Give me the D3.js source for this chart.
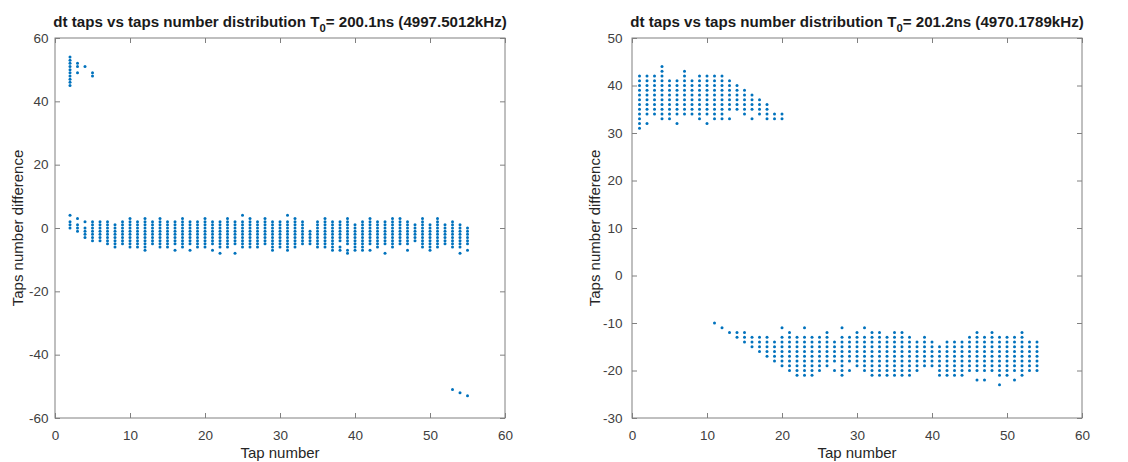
<!DOCTYPE html>
<html><head><meta charset="utf-8">
<script src="https://cdn.jsdelivr.net/npm/d3@7"></script>
<style>body{margin:0;background:#fff}svg{display:block}</style>
</head><body>
<svg id="c" width="1128" height="462"></svg>
<script>
// ---------------- data ----------------
// Each run [x, lo, hi] = a column of integer-valued dots from lo to hi at tap x.
const xTicks = [0, 10, 20, 30, 40, 50, 60];
const leftYTicks = [-60, -40, -20, 0, 20, 40, 60];
const rightYTicks = [-30, -20, -10, 0, 10, 20, 30, 40, 50];
const leftTitle = ["dt taps vs taps number distribution T", "0", "= 200.1ns (4997.5012kHz)"];
const rightTitle = ["dt taps vs taps number distribution T", "0", "= 201.2ns (4970.1789kHz)"];
const xLabel = "Tap number";
const yLabel = "Taps number difference";

const leftRuns = [
  [2,45,54],[3,51,52],[5,48,49],
  [2,0,2],[3,-1,1],[4,-3,0],[5,-4,2],[6,-4,2],[7,-5,2],[8,-6,1],[9,-5,2],[10,-6,3],
  [11,-6,2],[12,-7,3],[13,-5,2],[14,-6,3],[15,-6,2],[16,-5,2],[17,-6,3],[18,-5,2],
  [19,-6,2],[20,-6,3],[21,-5,2],[22,-6,2],[23,-6,3],[24,-5,2],[25,-6,2],[26,-6,3],
  [27,-6,2],[28,-5,3],[29,-7,2],[30,-6,2],[31,-7,2],[32,-6,3],[33,-5,2],[34,-5,-1],
  [35,-6,2],[36,-6,3],[37,-6,2],[38,-4,2],[39,-5,3],[40,-6,1],[41,-6,2],[42,-5,3],
  [43,-6,2],[44,-5,2],[45,-6,3],[46,-5,3],[47,-5,2],[48,-4,1],[49,-6,3],[50,-7,1],
  [51,-6,3],[52,-5,1],[53,-6,2],[54,-6,1],[55,-5,0]
];
const leftSingles = [
  [3,49],[4,51],[53,-51],[54,-52],[55,-53],
  [2,4],[3,3],[4,2],[16,-7],[18,-7],[21,-7],[22,-8],[24,-8],[25,4],[31,4],
  [37,-7],[38,-6],[38,-7],[39,-7],[39,-8],[40,-7],[41,-7],[42,-7],[44,-8],[47,-7],
  [54,-8],[55,-7]
];

const rightRuns = [
  [1,31,42],[2,34,42],[3,34,42],[4,33,44],[5,33,41],[6,34,41],[7,34,43],[8,34,41],
  [9,33,42],[10,34,42],[11,33,42],[12,33,42],[13,35,41],[14,35,40],[15,34,39],
  [16,35,38],[17,34,37],[18,33,36],[19,33,34],[20,33,34],
  [11,-10,-10],[12,-11,-11],[13,-12,-12],[14,-13,-12],[15,-14,-12],[16,-15,-13],
  [17,-16,-13],[18,-17,-13],[19,-18,-14],[20,-19,-13],[21,-20,-12],[22,-21,-13],
  [23,-21,-13],[24,-21,-13],[25,-20,-13],[26,-19,-12],[27,-18,-14],[28,-21,-13],
  [29,-18,-13],[30,-19,-12],[31,-20,-13],[32,-21,-12],[33,-21,-12],[34,-21,-13],
  [35,-21,-12],[36,-21,-12],[37,-21,-13],[38,-20,-14],[39,-19,-13],[40,-19,-14],
  [41,-21,-15],[42,-21,-14],[43,-21,-14],[44,-21,-14],[45,-20,-13],[46,-20,-12],
  [47,-20,-13],[48,-20,-12],[49,-21,-13],[50,-21,-13],[51,-20,-13],[52,-21,-12],
  [53,-20,-14],[54,-20,-14]
];
const rightSingles = [
  [2,32],[6,32],[10,32],[13,33],[16,33],
  [20,-11],[23,-11],[27,-20],[28,-11],[29,-20],[31,-11],[46,-22],[47,-22],[49,-23],[51,-22]
];

// ---------------- drawing ----------------
const svg = d3.select("#c");
const dotColor = "#0072BD";
const axisColor = "#808080";
const textColor = "#404040";
const font = "'Liberation Sans', Arial, Helvetica, sans-serif";

function expand(runs, singles) {
  const pts = [];
  runs.forEach(([x, lo, hi]) => { for (let y = lo; y <= hi; y++) pts.push([x, y]); });
  singles.forEach(p => pts.push(p));
  return pts;
}

function panel(cfg) {
  const {x0, x1, y0, y1, yDomain, yTicks, title, runs, singles, yLabelX, yPad} = cfg;
  const g = svg.append("g");
  const x = d3.scaleLinear().domain([0, 60]).range([x0, x1]);
  const y = d3.scaleLinear().domain(yDomain).range([y1, y0]);
  const tl = 5;

  g.append("rect").attr("x", x0).attr("y", y0).attr("width", x1 - x0).attr("height", y1 - y0)
    .attr("fill", "none").attr("stroke", axisColor).attr("stroke-width", 1);

  const ax = (sel, axis) => {
    sel.call(axis);
    sel.select(".domain").remove();
    sel.selectAll(".tick line").attr("stroke", axisColor);
    sel.selectAll(".tick text").attr("fill", textColor).style("font-family", font).style("font-size", "13.5px");
  };
  g.append("g").attr("transform", `translate(0,${y1})`)
    .call(s => ax(s, d3.axisBottom(x).tickValues(xTicks).tickSize(-tl).tickPadding(12).tickFormat(d3.format("d"))));
  g.append("g").attr("transform", `translate(0,${y0})`)
    .call(s => ax(s, d3.axisTop(x).tickValues(xTicks).tickSize(-tl).tickFormat("")));
  g.append("g").attr("transform", `translate(${x0},0)`)
    .call(s => ax(s, d3.axisLeft(y).tickValues(yTicks).tickSize(-tl).tickPadding(yPad).tickFormat(d3.format("d"))));
  g.append("g").attr("transform", `translate(${x1},0)`)
    .call(s => ax(s, d3.axisRight(y).tickValues(yTicks).tickSize(-tl).tickFormat("")));
  g.selectAll(".tick text").text(function(){ return this.textContent.replace("\u2212", "-"); });

  g.append("g").selectAll("circle").data(expand(runs, singles)).join("circle")
    .attr("cx", d => x(d[0])).attr("cy", d => y(d[1])).attr("r", 1.5).attr("fill", dotColor);

  const t = g.append("text").attr("x", (x0 + x1) / 2).attr("y", 27).attr("text-anchor", "middle")
    .attr("fill", "#1a1a1a").style("font-family", font).style("font-weight", "bold").style("font-size", "14px");
  t.append("tspan").text(title[0]);
  t.append("tspan").attr("dy", 5).style("font-size", "10.5px").text(title[1]);
  t.append("tspan").attr("dy", -5).text(title[2]);
  const w = t.node().getComputedTextLength();
  const s = 454 / w;
  t.style("font-size", (14 * s) + "px");
  t.selectAll("tspan").filter((d, i) => i === 1).style("font-size", (10.5 * s) + "px");

  g.append("text").attr("x", (x0 + x1) / 2).attr("y", 458).attr("text-anchor", "middle")
    .attr("fill", "#262626").style("font-family", font).style("font-size", "15px").text(xLabel);
  g.append("text").attr("transform", `translate(${yLabelX},${(y0 + y1) / 2}) rotate(-90)`)
    .attr("text-anchor", "middle").attr("fill", "#262626").style("font-family", font).style("font-size", "15px").text(yLabel);
}

panel({x0: 55, x1: 505, y0: 38, y1: 418, yDomain: [-60, 60], yTicks: leftYTicks,
       title: leftTitle, runs: leftRuns, singles: leftSingles, yLabelX: 23, yPad: 6.5});
panel({x0: 632, x1: 1082, y0: 38, y1: 418, yDomain: [-30, 50], yTicks: rightYTicks,
       title: rightTitle, runs: rightRuns, singles: rightSingles, yLabelX: 600, yPad: 9.5});
</script>
</body></html>
